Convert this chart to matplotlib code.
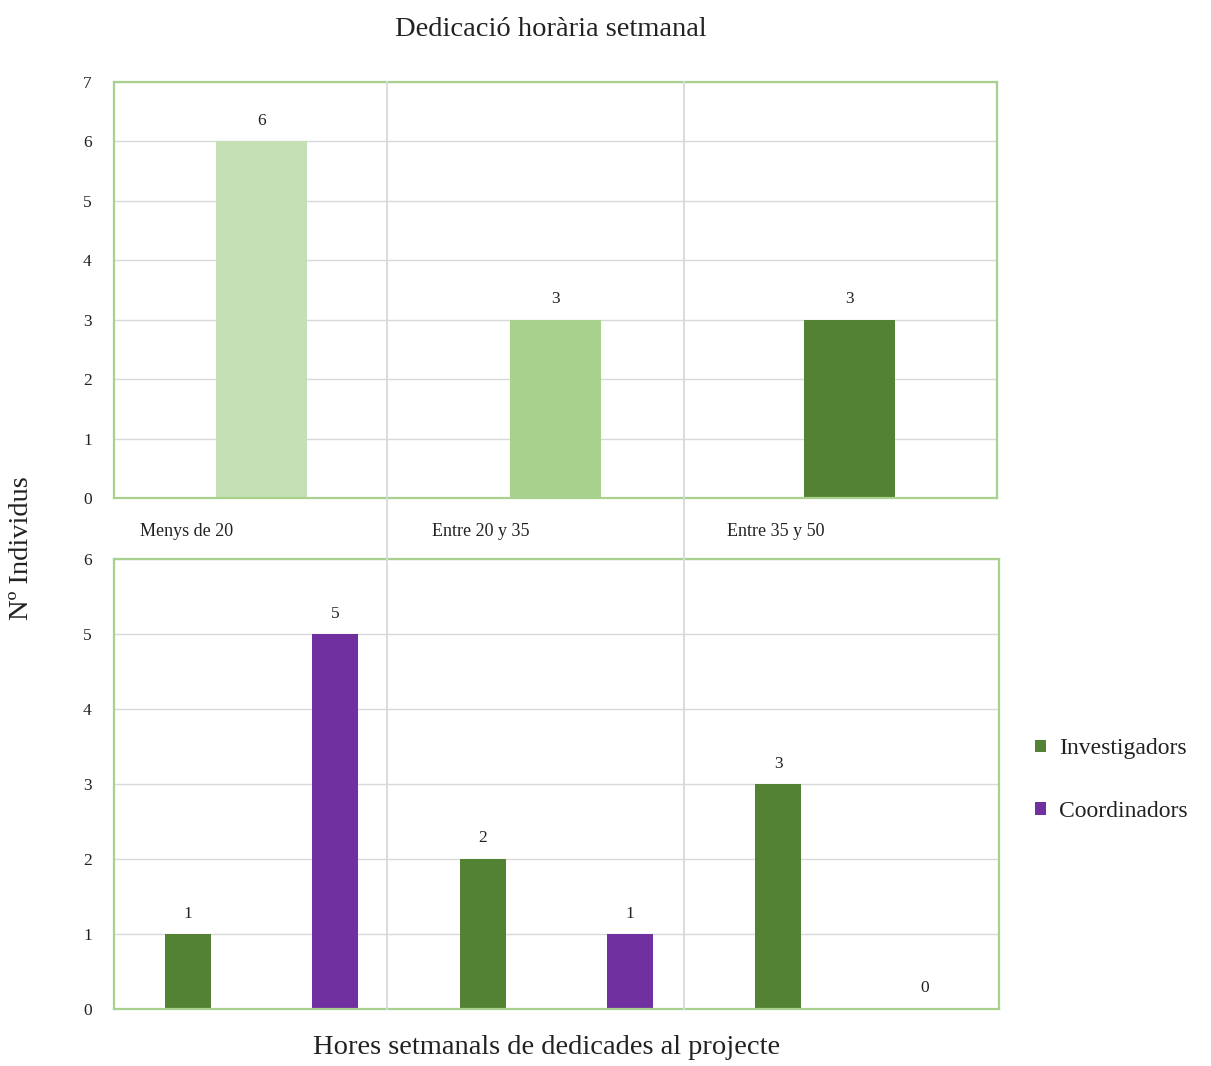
import matplotlib
matplotlib.use("Agg")
import matplotlib.pyplot as plt
from matplotlib.lines import Line2D
from matplotlib.patches import Patch
import numpy as np

plt.rcParams['font.family'] = ['Liberation Serif', 'DejaVu Serif']

categories = ["Menys de 20", "Entre 20 y 35", "Entre 35 y 50"]
total_values = [6, 3, 3]
total_colors = ["#c5e0b4", "#a9d18e", "#548235"]
series_names = ["Investigadors", "Coordinadors"]
investigadors = [1, 2, 3]
coordinadors = [5, 1, 0]
series_colors = ["#548235", "#7030a0"]

title = "Dedicació horària setmanal"
ylabel = "Nº Individus"
xlabel = "Hores setmanals de dedicades al projecte"

W, H = 1211, 1066
fig = plt.figure(figsize=(W / 100, H / 100), dpi=100)

def frac_box(x0, y0, x1, y1):
    return [x0 / W, 1 - y1 / H, (x1 - x0) / W, (y1 - y0) / H]

ax_top = fig.add_axes(frac_box(114, 82, 997, 498))
ax_bot = fig.add_axes(frac_box(114, 559, 999, 1009))

border = "#a9d18e"
grid_c = "#d9d9d9"
x = np.arange(len(categories))

for ax in (ax_top, ax_bot):
    for s in ax.spines.values():
        s.set_color(border)
        s.set_linewidth(1.6)
    ax.set_xlim(-0.5, len(categories) - 0.5)
    ax.set_xticks([])
    ax.yaxis.grid(True, color=grid_c, linewidth=1.0)
    ax.set_axisbelow(True)
    ax.tick_params(axis='y', length=0, pad=16, labelsize=12.5, labelcolor="#222222")

# top panel: totals per category
ax_top.set_ylim(0, 7)
ax_top.set_yticks(range(0, 8))
bars = ax_top.bar(x, total_values, width=0.31, color=total_colors)
for b, v in zip(bars, total_values):
    ax_top.annotate(str(v), (b.get_x() + b.get_width() / 2, v), xytext=(0, 9),
                    textcoords="offset points", ha="center", va="bottom",
                    fontsize=12.5, color="#222222")

# bottom panel: split by role
ax_bot.set_ylim(0, 6)
ax_bot.set_yticks(range(0, 7))
off = 0.249
w = 0.156
for vals, col, dx in ((investigadors, series_colors[0], -off),
                      (coordinadors, series_colors[1], off)):
    bs = ax_bot.bar(x + dx, vals, width=w, color=col)
    for b, v in zip(bs, vals):
        ax_bot.annotate(str(v), (b.get_x() + b.get_width() / 2, v), xytext=(0, 9),
                        textcoords="offset points", ha="center", va="bottom",
                        fontsize=12.5, color="#222222")

# vertical separators running through both panels
for px in (387, 684):
    fig.add_artist(Line2D([px / W, px / W], [1 - 82 / H, 1 - 1009 / H],
                          transform=fig.transFigure, color=grid_c, linewidth=1.3,
                          zorder=0.5))

# category labels between the panels
for lx, lab in zip((140, 432, 727), categories):
    fig.text(lx / W, 1 - 532 / H, lab, ha="left", va="center", fontsize=13,
             color="#222222")

fig.text(551 / W, 1 - 29 / H, title, ha="center", va="center", fontsize=20.5,
         color="#222222")
fig.text(22 / W, 1 - 548 / H, ylabel, ha="center", va="center", rotation=90,
         fontsize=20.5, color="#222222")
fig.text(547 / W, 1 - 1048 / H, xlabel, ha="center", va="center", fontsize=20.5,
         color="#222222")

handles = [Patch(facecolor=c, edgecolor="none") for c in series_colors]
fig.legend(handles, series_names, loc="center left",
           bbox_to_anchor=(1014 / W, 1 - 780 / H), frameon=False, fontsize=17,
           handlelength=0.45, handleheight=0.45, handletextpad=0.55,
           labelspacing=1.75, labelcolor="#222222")

fig.savefig("out.png", dpi=100)
